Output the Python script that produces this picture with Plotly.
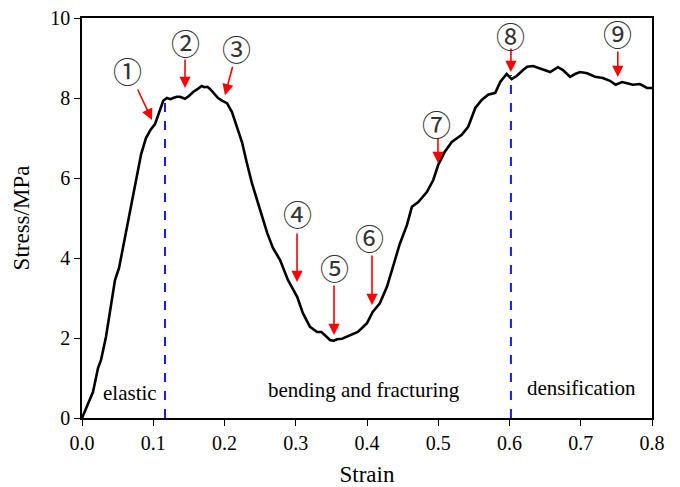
import plotly.graph_objects as go

strain = [0, 0.0154, 0.0225, 0.0267, 0.0337, 0.0407, 0.0463, 0.052, 0.058, 0.066,
          0.0758, 0.083, 0.0898, 0.096, 0.1025, 0.109, 0.114, 0.119, 0.124, 0.128,
          0.133, 0.1375, 0.141, 0.1445, 0.15, 0.156, 0.162, 0.168, 0.172, 0.176,
          0.18, 0.186, 0.191, 0.197, 0.2035, 0.2105, 0.2175, 0.2245, 0.2315, 0.2385,
          0.25, 0.26, 0.268, 0.278, 0.289, 0.302, 0.31, 0.32, 0.33, 0.336,
          0.341, 0.348, 0.353, 0.358, 0.365, 0.372, 0.38, 0.387, 0.393, 0.4,
          0.408, 0.418, 0.428, 0.436, 0.446, 0.456, 0.463, 0.472, 0.484, 0.493,
          0.5, 0.509, 0.519, 0.533, 0.542, 0.552, 0.561, 0.57, 0.58, 0.587,
          0.596, 0.603, 0.61, 0.619, 0.625, 0.633, 0.64, 0.646, 0.652, 0.657,
          0.668, 0.675, 0.685, 0.692, 0.699, 0.709, 0.72, 0.731, 0.741, 0.749,
          0.758, 0.765, 0.773, 0.783, 0.793, 0.8]
stress = [0, 0.65, 1.25, 1.45, 2.03, 2.78, 3.45, 3.75, 4.3, 5.1,
          6.0, 6.6, 7.0, 7.2, 7.35, 7.7, 7.93, 8.0, 7.97, 8.0,
          8.03, 8.03, 8.0, 7.98, 8.05, 8.15, 8.22, 8.3, 8.27, 8.28,
          8.22, 8.1, 8.0, 7.93, 7.87, 7.65, 7.25, 6.9, 6.37, 5.87,
          5.2, 4.62, 4.25, 3.95, 3.45, 3.03, 2.62, 2.28, 2.15, 2.15,
          2.07, 1.95, 1.93, 1.97, 1.98, 2.03, 2.08, 2.15, 2.25, 2.37,
          2.65, 2.87, 3.28, 3.78, 4.35, 4.82, 5.28, 5.4, 5.65, 5.95,
          6.33, 6.65, 6.9, 7.08, 7.28, 7.75, 7.95, 8.08, 8.13, 8.4,
          8.6, 8.47, 8.55, 8.7, 8.78, 8.8, 8.75, 8.72, 8.68, 8.65,
          8.77, 8.7, 8.53, 8.6, 8.65, 8.62, 8.53, 8.5, 8.43, 8.33,
          8.4, 8.37, 8.33, 8.35, 8.25, 8.25]

# stage boundaries
boundary_x = [0.1165, 0.602]
boundary_top = [7.875, 8.575]

stage_labels = ["elastic", "bending and fracturing", "densification"]
stage_x = [0.068, 0.3955, 0.7005]
stage_y = [0.62, 0.7, 0.75]

marker_labels = ["①", "②", "③", "④", "⑤", "⑥", "⑦", "⑧", "⑨"]
tip_x = [0.0982, 0.1446, 0.2007, 0.3018, 0.3537, 0.407, 0.4996, 0.602, 0.752]
tip_y = [7.45, 8.25, 8.07, 3.4, 2.075, 2.825, 6.375, 8.65, 8.525]
tail_dx = [-15, 0, 8, 0, 0, 0, 0, 0, 0]
tail_dy = [-32, -30, -30, -50, -51, -51, -26, -25, -27]
label_x = [0.0632, 0.1446, 0.2175, 0.3018, 0.355, 0.404, 0.498, 0.602, 0.752]
label_y = [8.7, 9.4, 9.25, 5.125, 3.775, 4.525, 7.375, 9.575, 9.625]

serif = "Liberation Serif"

fig = go.Figure()
for bx, bt in zip(boundary_x, boundary_top):
    fig.add_trace(go.Scatter(x=[bx, bx], y=[0, bt], mode="lines",
                             line=dict(color="#1a1aff", width=2, dash="dash"),
                             showlegend=False, hoverinfo="skip"))
fig.add_trace(go.Scatter(x=strain, y=stress, mode="lines",
                         line=dict(color="black", width=2.6),
                         showlegend=False))

annotations = []
for t, sx, sy in zip(stage_labels, stage_x, stage_y):
    annotations.append(dict(x=sx, y=sy, xref="x", yref="y", text=t, showarrow=False,
                            font=dict(family=serif, size=21, color="black")))
for tx, ty, dx, dy in zip(tip_x, tip_y, tail_dx, tail_dy):
    annotations.append(dict(x=tx, y=ty, xref="x", yref="y", text="", showarrow=True,
                            ax=dx, ay=dy, arrowcolor="red", arrowwidth=1.6,
                            arrowhead=2, arrowsize=1.4, standoff=0, startstandoff=0))
for t, lx, ly in zip(marker_labels, label_x, label_y):
    annotations.append(dict(x=lx, y=ly, xref="x", yref="y", text=t, showarrow=False,
                            font=dict(family="Noto Sans CJK SC", size=29, color="#333333")))

fig.update_layout(
    width=680, height=487,
    margin=dict(l=82, r=28, t=18, b=69),
    paper_bgcolor="white", plot_bgcolor="white",
    annotations=annotations,
    font=dict(family=serif, size=20, color="black"),
)
fig.update_xaxes(range=[0, 0.8], tickvals=[0, 0.1, 0.2, 0.3, 0.4, 0.5, 0.6, 0.7, 0.8],
                 ticktext=["0.0", "0.1", "0.2", "0.3", "0.4", "0.5", "0.6", "0.7", "0.8"],
                 showline=True, linecolor="black", linewidth=1.6, mirror=True,
                 ticks="outside", ticklen=6, tickwidth=1.4, tickcolor="black",
                 showgrid=False, zeroline=False, automargin=False,
                 title=dict(text="Strain", font=dict(family=serif, size=23), standoff=14),
                 tickfont=dict(family=serif, size=20))
fig.update_yaxes(range=[0, 10], tickvals=[0, 2, 4, 6, 8, 10],
                 showline=True, linecolor="black", linewidth=1.6, mirror=True,
                 ticks="outside", ticklen=6, tickwidth=1.4, tickcolor="black",
                 showgrid=False, zeroline=False, automargin=False,
                 title=dict(text="Stress/MPa", font=dict(family=serif, size=23), standoff=14),
                 tickfont=dict(family=serif, size=20))

fig.write_html("out.html")
